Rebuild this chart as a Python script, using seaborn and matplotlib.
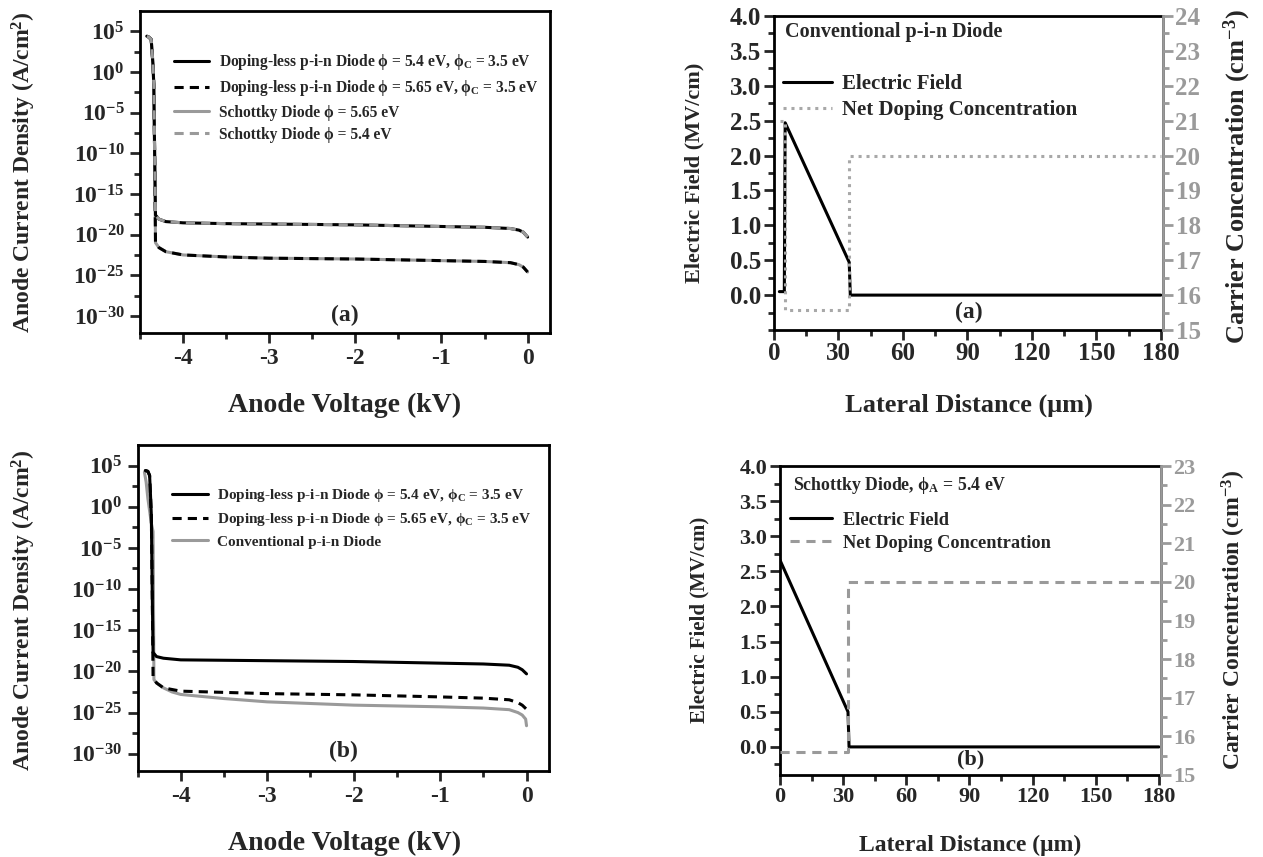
import numpy as np
import pandas as pd
import matplotlib
matplotlib.use("Agg")
import matplotlib.pyplot as plt
import seaborn as sns
from matplotlib.ticker import FixedLocator, FuncFormatter, MultipleLocator

# ---------------- data ----------------
# (a) left: anode current density, log10(J [A/cm^2]) vs anode voltage (kV)
volt_a = [-4.42, -4.40, -4.37, -4.35, -4.34, -4.33, -4.32, -4.28, -4.2, -4.0, -3.5, -3.0,
          -2.0, -1.0, -0.5, -0.2, -0.1, -0.05, 0.0]
logJ_dl_54_a = [4.4, 4.3, 4.0, 1.0, -1.5, -10.0, -17.6, -18.1, -18.4, -18.55, -18.65, -18.7,
                -18.8, -19.0, -19.1, -19.25, -19.45, -19.7, -20.3]
logJ_dl_565_a = [4.4, 4.3, 4.0, 1.0, -1.5, -10.0, -21.0, -21.6, -22.1, -22.5, -22.75, -22.9,
                 -23.0, -23.2, -23.3, -23.45, -23.7, -24.0, -24.6]
logJ_sch_565_a = [4.4, 4.3, 4.0, 1.0, -1.5, -10.0, -21.0, -21.6, -22.1, -22.5, -22.75, -22.9,
                  -23.0, -23.2, -23.3, -23.45, -23.7, -24.0, -24.6]
logJ_sch_54_a = [4.4, 4.3, 4.0, 1.0, -1.5, -10.0, -17.6, -18.1, -18.4, -18.55, -18.65, -18.7,
                 -18.8, -19.0, -19.1, -19.25, -19.45, -19.7, -20.3]

# (b) left
volt_b = [-4.41, -4.38, -4.36, -4.35, -4.34, -4.33, -4.32, -4.28, -4.2, -4.0, -3.0, -2.0,
          -1.0, -0.5, -0.2, -0.1, -0.05, 0.0]
logJ_dl_54_b = [4.4, 4.3, 3.8, 1.5, -1.0, -10.0, -17.7, -18.2, -18.4, -18.6, -18.7, -18.8,
                -19.0, -19.1, -19.25, -19.5, -19.8, -20.3]
logJ_dl_565_b = [4.4, 4.3, 3.8, 1.5, -1.0, -10.0, -20.7, -21.4, -22.0, -22.4, -22.7, -22.85,
                 -23.1, -23.25, -23.45, -23.8, -24.1, -24.6]
volt_conv_b = [-4.42, -4.40, -4.38, -4.36, -4.34, -4.32, -4.31, -4.28, -4.2, -4.1, -4.0, -3.5,
               -3.0, -2.0, -1.0, -0.5, -0.2, -0.1, -0.05, -0.01, 0.0]
logJ_conv_b = [4.2, 3.0, 1.0, -0.5, -2.0, -3.0, -21.0, -21.4, -22.0, -22.5, -22.8, -23.3,
               -23.7, -24.1, -24.3, -24.45, -24.65, -25.0, -25.3, -25.8, -26.6]

# (a) right: conventional p-i-n diode
dist_field_a = [2.5, 4.8, 5.2, 35.0, 35.5, 180.0]
field_a = [0.05, 0.05, 2.47, 0.47, 0.0, 0.0]
dist_dop_a = [3.0, 5.0, 5.0, 35.0, 35.0, 180.0]
dop_a = [21.0, 21.0, 15.57, 15.57, 20.0, 20.0]

# (b) right: Schottky diode
dist_field_b = [0.0, 32.3, 32.8, 180.0]
field_b = [2.66, 0.50, 0.0, 0.0]
dist_dop_b = [0.0, 32.5, 32.5, 180.0]
dop_b = [15.59, 15.59, 20.0, 20.0]

log_major = [5, 0, -5, -10, -15, -20, -25, -30]

# ---------------- style ----------------
sns.set_style("ticks")
plt.rcParams['font.family'] = ['Liberation Serif', 'DejaVu Serif']
plt.rcParams['font.weight'] = 'bold'
plt.rcParams['axes.labelweight'] = 'bold'
plt.rcParams['mathtext.fontset'] = 'custom'
plt.rcParams['mathtext.rm'] = 'Liberation Serif:bold'
plt.rcParams['mathtext.bf'] = 'Liberation Serif:bold'
plt.rcParams['mathtext.it'] = 'Liberation Serif:bold:italic'
plt.rcParams['mathtext.default'] = 'rm'

BLACK = '#000000'
GRAY = '#9a9a9a'
LGRAY = '#a8a8a8'

fig = plt.figure(figsize=(12.63, 8.57), dpi=100)
W, H = 1263.0, 857.0


def px_axes(l, t, r, b):
    return fig.add_axes([l / W, 1 - b / H, (r - l) / W, (b - t) / H])


def style_frame(ax, lw=2.0):
    for s in ax.spines.values():
        s.set_linewidth(lw)
        s.set_color('black')
        s.set_visible(True)


def log_axis(ax):
    ax.set_yscale('log')
    ax.set_ylim(10 ** -32.1, 10 ** 7.5)
    ax.yaxis.set_major_locator(FixedLocator([10.0 ** e for e in log_major]))
    ax.yaxis.set_minor_locator(FixedLocator([10.0 ** (e - 2.5) for e in log_major]))
    ax.yaxis.set_major_formatter(FuncFormatter(
        lambda v, p: r'$\mathbf{10^{%d}}$' % int(round(np.log10(v)))))
    ax.set_xlim(-4.5, 0.26)
    ax.xaxis.set_major_locator(FixedLocator([-4, -3, -2, -1, 0]))
    ax.xaxis.set_minor_locator(FixedLocator([-4.5, -3.5, -2.5, -1.5, -0.5]))
    ax.xaxis.set_major_formatter(FuncFormatter(lambda v, p: '%d' % v))
    ax.tick_params(which='major', direction='out', length=7, width=2, labelsize=17, pad=4)
    ax.tick_params(which='minor', direction='out', length=4, width=2)
    ax.tick_params(top=False, right=False)
    style_frame(ax)


def line(ax, x, y, color, ls, lw=2.2, label=None, z=2):
    sns.lineplot(x=x, y=y, ax=ax, color=color, linestyle=ls, linewidth=lw,
                 estimator=None, sort=False, label=label, zorder=z)


def bold_legend(leg):
    for t in leg.get_texts():
        t.set_fontweight('bold')


J = lambda arr: 10.0 ** np.array(arr)
LAB1 = 'Doping-less p-i-n Diode ϕ = 5.4 eV, ϕ$_\\mathregular{C}$ = 3.5 eV'
LAB2 = 'Doping-less p-i-n Diode ϕ = 5.65 eV, ϕ$_\\mathregular{C}$ = 3.5 eV'

# ---------------- top-left (a) ----------------
ax1 = px_axes(140, 11, 550, 333)
line(ax1, volt_a, J(logJ_dl_54_a), BLACK, '-', label=LAB1, z=2)
line(ax1, volt_a, J(logJ_dl_565_a), BLACK, (0, (3, 2)), label=LAB2, z=3)
line(ax1, volt_a, J(logJ_sch_565_a), GRAY, '-', label='Schottky Diode ϕ = 5.65 eV', z=1)
line(ax1, volt_a, J(logJ_sch_54_a), GRAY, (0, (3, 2)), label='Schottky Diode ϕ = 5.4 eV', z=4)
log_axis(ax1)
ax1.set_xlabel('')
ax1.set_ylabel('')
bold_legend(ax1.legend(loc='upper left', bbox_to_anchor=(0.083, 0.872), frameon=False, fontsize=11.2,
                       handlelength=2.25, handletextpad=0.65, labelspacing=0.4, borderaxespad=0,
                       borderpad=0))
ax1.text(0.5, 0.055, '(a)', transform=ax1.transAxes, ha='center', va='center', fontsize=17, fontweight='bold')
fig.text(345 / W, 1 - 405 / H, 'Anode Voltage (kV)', ha='center', va='center', fontsize=20, fontweight='bold')
fig.text(24 / W, 1 - 172 / H, 'Anode Current Density (A/cm$^\\mathregular{2}$)', ha='center', va='center',
         rotation=90, fontsize=17, fontweight='bold')

# ---------------- bottom-left (b) ----------------
ax3 = px_axes(137.5, 445, 549, 771)
line(ax3, volt_b, J(logJ_dl_54_b), BLACK, '-', label=LAB1, z=3)
line(ax3, volt_b, J(logJ_dl_565_b), BLACK, (0, (3, 2)), label=LAB2, z=2)
line(ax3, volt_conv_b, J(logJ_conv_b), GRAY, '-', label='Conventional p-i-n Diode', z=1)
log_axis(ax3)
ax3.set_xlabel('')
ax3.set_ylabel('')
bold_legend(ax3.legend(loc='upper left', bbox_to_anchor=(0.085, 0.87), frameon=False, fontsize=11,
                       handlelength=2.3, handletextpad=0.6, labelspacing=0.45, borderaxespad=0,
                       borderpad=0))
ax3.text(0.5, 0.06, '(b)', transform=ax3.transAxes, ha='center', va='center', fontsize=17, fontweight='bold')
fig.text(345 / W, 1 - 843 / H, 'Anode Voltage (kV)', ha='center', va='center', fontsize=20, fontweight='bold')
fig.text(24 / W, 1 - 610 / H, 'Anode Current Density (A/cm$^\\mathregular{2}$)', ha='center', va='center',
         rotation=90, fontsize=17, fontweight='bold')


# ---------------- right panels ----------------
def field_axes(ax, ax2, ylo, rtop, tick_ls):
    ax.set_xlim(0, 181)
    ax.set_ylim(ylo, 4.0)
    ax.xaxis.set_major_locator(FixedLocator([0, 30, 60, 90, 120, 150, 180]))
    ax.xaxis.set_minor_locator(MultipleLocator(15))
    ax.yaxis.set_major_locator(FixedLocator([0.0, 0.5, 1.0, 1.5, 2.0, 2.5, 3.0, 3.5, 4.0]))
    ax.yaxis.set_minor_locator(MultipleLocator(0.25))
    ax.yaxis.set_major_formatter(FuncFormatter(lambda v, p: '%.1f' % v))
    ax.tick_params(which='major', direction='out', length=7, width=2, labelsize=tick_ls, pad=2)
    ax.tick_params(which='minor', direction='out', length=4, width=2)
    ax.tick_params(top=False, right=False)
    style_frame(ax)
    ax2.set_ylim(15, rtop)
    ax2.yaxis.set_major_locator(MultipleLocator(1))
    ax2.yaxis.set_minor_locator(MultipleLocator(0.5))
    ax2.tick_params(axis='y', which='major', direction='out', length=7, width=2, labelsize=tick_ls,
                    colors=GRAY, pad=2)
    ax2.tick_params(axis='y', which='minor', direction='out', length=4, width=2, colors=GRAY)
    for s in ax2.spines.values():
        s.set_visible(False)
    ax2.spines['right'].set_visible(True)
    ax2.spines['right'].set_color(GRAY)
    ax2.spines['right'].set_linewidth(2.0)
    ax.set_xlabel('')
    ax.set_ylabel('')
    ax2.set_ylabel('')


# top-right (a)
ax2 = px_axes(774, 16, 1163, 330)
ax2r = ax2.twinx()
line(ax2, dist_field_a, field_a, BLACK, '-', lw=2.2, label='Electric Field', z=3)
line(ax2r, dist_dop_a, dop_a, LGRAY, (0, (1, 1.6)), lw=2.2, label='Net Doping Concentration', z=2)
field_axes(ax2, ax2r, -0.5, 24, 18)
if ax2r.get_legend():
    ax2r.get_legend().remove()
h1, l1 = ax2.get_legend_handles_labels()
h2, l2 = ax2r.get_legend_handles_labels()
bold_legend(ax2.legend(h1 + h2, l1 + l2, loc='upper left', bbox_to_anchor=(0.022, 0.815), frameon=False,
                       fontsize=15, handlelength=2.35, handletextpad=0.5, labelspacing=0.3,
                       borderaxespad=0, borderpad=0))
fig.text(785 / W, 1 - 32 / H, 'Conventional p-i-n Diode', ha='left', va='center', fontsize=14.5,
         fontweight='bold')
ax2.text(0.5, 0.055, '(a)', transform=ax2.transAxes, ha='center', va='center', fontsize=17, fontweight='bold')
fig.text(969 / W, 1 - 405 / H, 'Lateral Distance (μm)', ha='center', va='center', fontsize=19, fontweight='bold')
fig.text(694 / W, 1 - 173 / H, 'Electric Field (MV/cm)', ha='center', va='center', rotation=90, fontsize=16,
         fontweight='bold')
fig.text(1237 / W, 1 - 177 / H, 'Carrier Concentration (cm$^\\mathregular{-3}$)', ha='center', va='center',
         rotation=90, fontsize=19, fontweight='bold')

# bottom-right (b)
ax4 = px_axes(780, 466, 1161, 775)
ax4r = ax4.twinx()
line(ax4, dist_field_b, field_b, BLACK, '-', lw=2.2, label='Electric Field', z=3)
line(ax4r, dist_dop_b, dop_b, GRAY, (0, (3, 2.2)), lw=2.2, label='Net Doping Concentration', z=2)
field_axes(ax4, ax4r, -0.4, 23, 16)
if ax4r.get_legend():
    ax4r.get_legend().remove()
h1, l1 = ax4.get_legend_handles_labels()
h2, l2 = ax4r.get_legend_handles_labels()
bold_legend(ax4.legend(h1 + h2, l1 + l2, loc='upper left', bbox_to_anchor=(0.026, 0.852), frameon=False,
                       fontsize=13.2, handlelength=2.3, handletextpad=0.6, labelspacing=0.33,
                       borderaxespad=0, borderpad=0))
fig.text(793 / W, 1 - 485 / H, 'Schottky Diode, ϕ$_\\mathregular{A}$ = 5.4 eV', ha='left', va='center',
         fontsize=12.8, fontweight='bold')
ax4.text(0.5, 0.05, '(b)', transform=ax4.transAxes, ha='center', va='center', fontsize=16, fontweight='bold')
fig.text(970 / W, 1 - 845 / H, 'Lateral Distance (μm)', ha='center', va='center', fontsize=17, fontweight='bold')
fig.text(699 / W, 1 - 620 / H, 'Electric Field (MV/cm)', ha='center', va='center', rotation=90, fontsize=15,
         fontweight='bold')
fig.text(1234 / W, 1 - 620 / H, 'Carrier Concentration (cm$^\\mathregular{-3}$)', ha='center', va='center',
         rotation=90, fontsize=17, fontweight='bold')

fig.savefig('out.png', dpi=100, facecolor='white')
